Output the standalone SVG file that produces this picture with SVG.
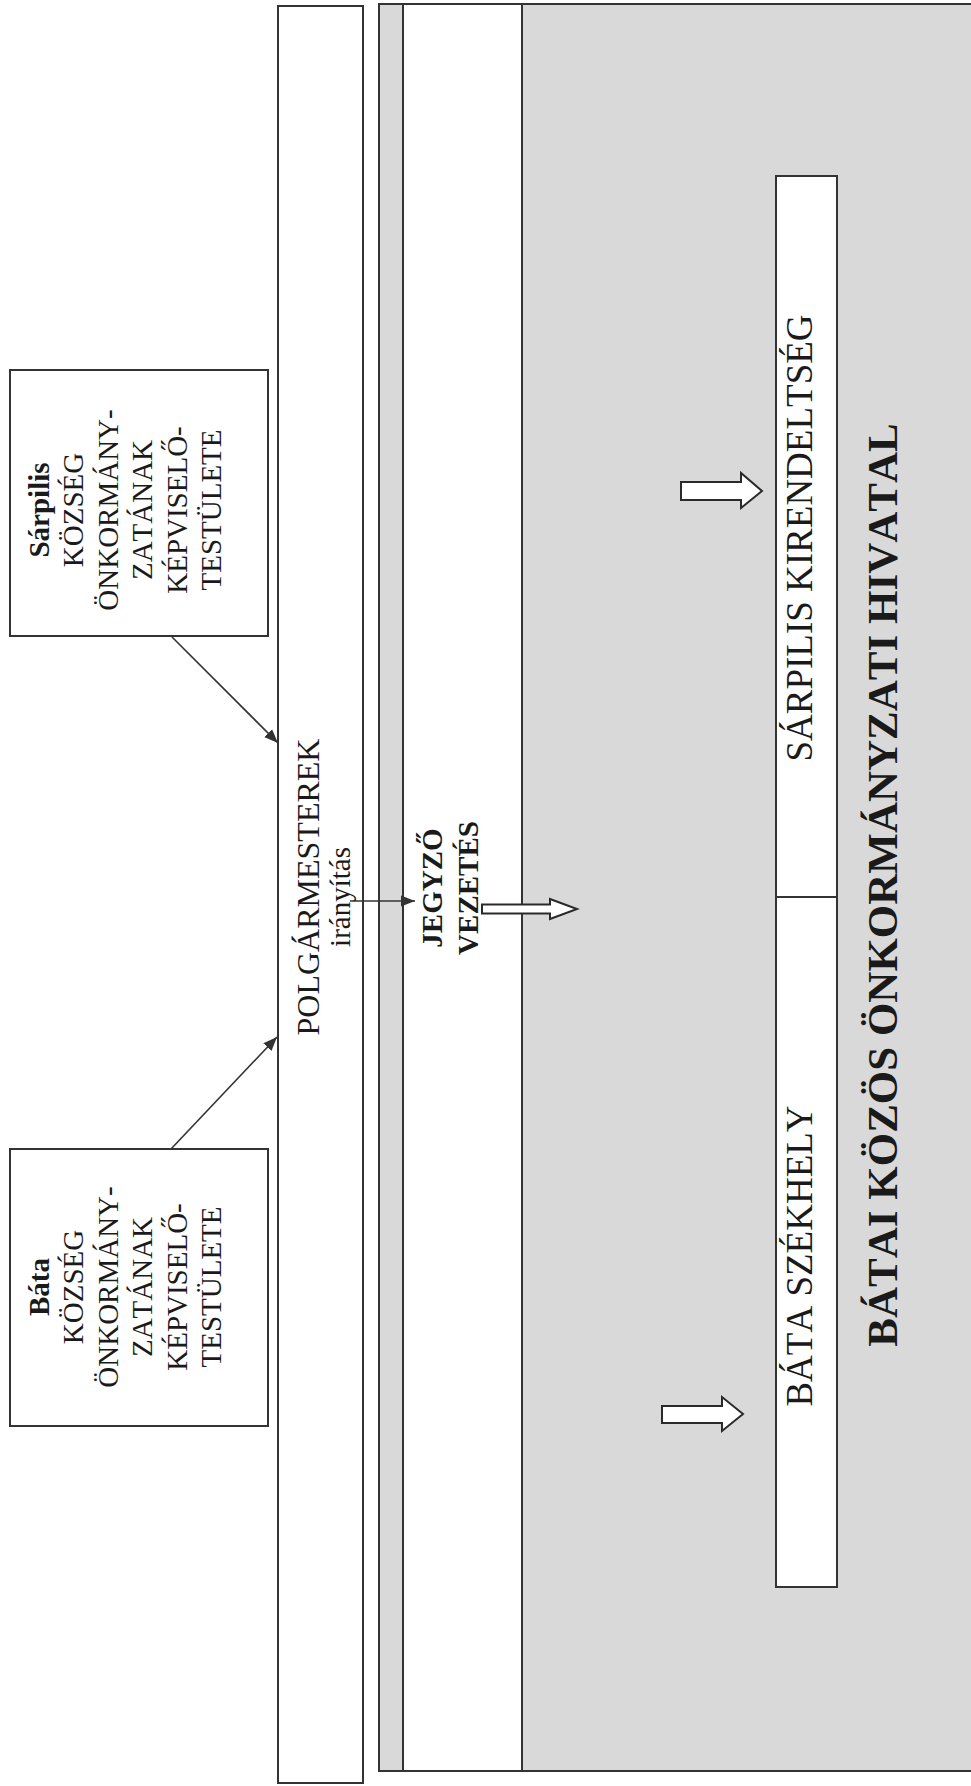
<svg xmlns="http://www.w3.org/2000/svg" width="971" height="1786" viewBox="0 0 971 1786">
  <style>
    .box { fill: #ffffff; stroke: #333333; stroke-width: 2; }
    .gray { fill: #d9d9d9; stroke: #333333; stroke-width: 2; }
    .t { font-family: "Liberation Serif", "Times New Roman", serif; fill: #1a1a1a; text-anchor: middle; font-kerning: none; }
    .b { font-weight: bold; }
    .conn { stroke: #333333; stroke-width: 1.6; fill: none; }
    .hollow { fill: #ffffff; stroke: #2a2a2a; stroke-width: 2; stroke-linejoin: miter; }
  </style>
  <defs>
    <marker id="ah2" viewBox="0 0 10 10" refX="10" refY="5" markerWidth="14" markerHeight="14" markerUnits="userSpaceOnUse" orient="auto">
      <path d="M0,1 L10,5 L0,9 Z" fill="#333333"/>
    </marker>
  </defs>
  <rect x="0" y="0" width="971" height="1786" fill="#ffffff"/>

  <g id="hivatal">
    <rect class="gray" x="379" y="4" width="620" height="1767"/>
    <text class="t b" font-size="43" transform="translate(897,885) rotate(-90)">BÁTAI KÖZÖS ÖNKORMÁNYZATI HIVATAL</text>
  </g>

  <g id="jegyzo">
    <rect class="box" x="403" y="4" width="119" height="1767"/>
    <text class="t b" font-size="29" transform="translate(0,888) rotate(-90)"><tspan x="0" y="442">JEGYZŐ</tspan><tspan x="0" y="478">VEZETÉS</tspan></text>
  </g>

  <g id="polgarmesterek">
    <rect class="box" x="278" y="6" width="85" height="1777"/>
    <text class="t" font-size="32" transform="translate(319,887) rotate(-90)">POLGÁRMESTEREK</text>
    <text class="t" font-size="29" transform="translate(350,897) rotate(-90)">irányítás</text>
  </g>

  <g id="kirendeltseg">
    <rect class="box" x="776" y="176" width="61" height="1411"/>
    <line x1="776" y1="897" x2="837" y2="897" stroke="#333333" stroke-width="2"/>
    <text class="t" font-size="37" transform="translate(812,538) rotate(-90)">SÁRPILIS KIRENDELTSÉG</text>
    <text class="t" font-size="37" transform="translate(812,1256) rotate(-90)">BÁTA SZÉKHELY</text>
  </g>

  <g id="sarpilis-testulet">
    <rect class="box" x="10" y="370" width="258" height="266"/>
    <text class="t" font-size="29" transform="translate(0,510) rotate(-90)"><tspan class="b" x="0" y="49">Sárpilis</tspan><tspan x="0" y="83.4">KÖZSÉG</tspan><tspan x="0" y="117.8">ÖNKORMÁNY-</tspan><tspan x="0" y="152.2">ZATÁNAK</tspan><tspan x="0" y="186.6">KÉPVISELŐ-</tspan><tspan x="0" y="221">TESTÜLETE</tspan></text>
  </g>

  <g id="bata-testulet">
    <rect class="box" x="10" y="1149" width="258" height="277"/>
    <text class="t" font-size="29" transform="translate(0,1287) rotate(-90)"><tspan class="b" x="0" y="49">Báta</tspan><tspan x="0" y="83.4">KÖZSÉG</tspan><tspan x="0" y="117.8">ÖNKORMÁNY-</tspan><tspan x="0" y="152.2">ZATÁNAK</tspan><tspan x="0" y="186.6">KÉPVISELŐ-</tspan><tspan x="0" y="221">TESTÜLETE</tspan></text>
  </g>

  <g id="connectors">
    <line class="conn" x1="172" y1="637" x2="278" y2="743" marker-end="url(#ah2)"/>
    <line class="conn" x1="171" y1="1149" x2="277" y2="1037" marker-end="url(#ah2)"/>
    <line class="conn" x1="350" y1="901" x2="415" y2="901" marker-end="url(#ah2)"/>
    <path class="hollow" d="M482,904.5 L550,904.5 L550,899 L577,909 L550,919 L550,913.5 L482,913.5 Z"/>
    <path class="hollow" d="M681,482 L741,482 L741,473 L762,491 L741,508 L741,500 L681,500 Z"/>
    <path class="hollow" d="M662,1406 L722,1406 L722,1397 L743,1414 L722,1431 L722,1423 L662,1423 Z"/>
  </g>
</svg>
